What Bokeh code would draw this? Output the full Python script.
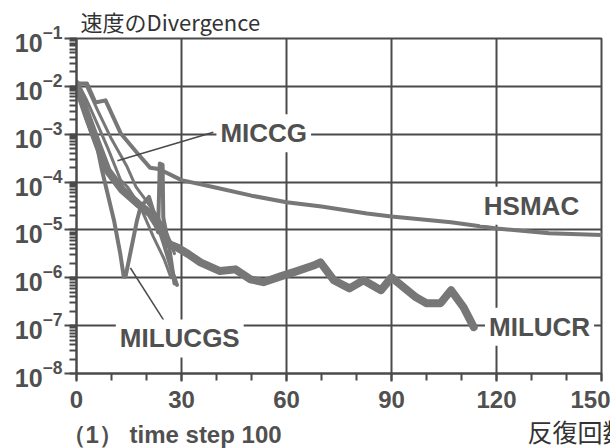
from bokeh.plotting import figure
from bokeh.models import Range1d, Label, SingleIntervalTicker, LogTicker, Title
from bokeh.embed import file_html
from bokeh.resources import INLINE

# ---- data (iteration count vs divergence of velocity) ----
hsmac_x = [1, 3, 5.4, 8.3, 12.6, 17.4, 21, 23, 25, 30, 40, 50, 60, 70, 83, 90, 107, 120, 135, 150]
hsmac_y = [1.15e-2, 1.15e-2, 4.6e-3, 5.1e-3, 1.05e-3, 4.0e-4, 2.0e-4, 1.9e-4, 1.66e-4, 1.1e-4,
           7.6e-5, 5.2e-5, 3.8e-5, 3.1e-5, 2.2e-5, 1.9e-5, 1.45e-5, 1.07e-5, 8.5e-6, 7.8e-6]

milucr_x = [0, 3, 6, 8.9, 13.1, 17.4, 21.1, 24, 26.5, 28.8, 32, 35.4, 41, 45.4, 49.7, 53.4, 58.3,
            63, 67.7, 69.7, 73.5, 78, 82, 87, 90, 97, 100, 104, 107, 110.6, 113.5]
milucr_y = [1.12e-2, 2.5e-3, 6.3e-4, 1.74e-4, 6.8e-5, 3.6e-5, 2.2e-5, 1.0e-5, 5.0e-6, 4.3e-6,
            3.1e-6, 2.1e-6, 1.38e-6, 1.5e-6, 9.3e-7, 8.1e-7, 1.07e-6, 1.38e-6, 1.8e-6, 2.1e-6,
            8.9e-7, 6.0e-7, 8.9e-7, 5.5e-7, 1.02e-6, 3.9e-7, 2.95e-7, 2.95e-7, 5.5e-7, 2.4e-7, 9.3e-8]

milucgs1_x = [0, 3, 6, 7.3, 10.7, 12.5, 13.5, 14, 17.3, 18.3, 20.7, 23, 25, 27, 28.7]
milucgs1_y = [1.0e-2, 2.0e-3, 5.0e-4, 1.74e-4, 1.6e-5, 3.2e-6, 1.05e-6, 1.05e-6, 1.6e-5, 3.0e-5,
              4.9e-5, 1.4e-5, 5.0e-6, 1.6e-6, 7.1e-7]

milucgs2_x = [0, 4, 8, 12, 16, 19, 22, 23.3, 23.8, 24.6, 24.8, 26.6, 28]
milucgs2_y = [8.9e-3, 1.26e-3, 2.5e-4, 7.9e-5, 4.5e-5, 3.2e-5, 1.8e-5, 9.0e-6, 2.45e-4, 2.3e-4,
              1.8e-5, 3.8e-6, 7.6e-7]

miccg1_x = [0.5, 3, 6, 9, 12.6, 14.6, 18.3, 22, 25, 27]
miccg1_y = [1.12e-2, 5.0e-3, 1.6e-3, 5.0e-4, 1.1e-4, 7.9e-5, 3.0e-5, 7.1e-6, 2.5e-6, 1.0e-6]

miccg2_x = [2.9, 6, 10, 14.3, 17, 20, 23, 26, 28]
miccg2_y = [1.0e-2, 3.2e-3, 7.9e-4, 2.2e-4, 7.9e-5, 4.0e-5, 2.0e-5, 7.9e-6, 3.2e-6]

# label pointer lines (from label to curve)
ptr_x0 = [39.1, 24.9]
ptr_y0 = [1.1e-3, 1.3e-7]
ptr_x1 = [11.7, 15.4]
ptr_y1 = [2.8e-4, 1.6e-6]

x_ticks_interval = 30

GREY = "#777777"
DARK = "#4a4a4a"
TXT = "#505050"

p = figure(frame_width=525, frame_height=335, output_backend="svg", toolbar_location=None,
           y_axis_type="log", x_range=Range1d(0, 150), y_range=Range1d(1e-8, 1e-1),
           min_border_left=76, min_border_right=9, min_border_top=38, min_border_bottom=75,
           background_fill_color="white", border_fill_color="white")

p.outline_line_color = DARK
p.outline_line_width = 2

# grids
for g in (p.xgrid, p.ygrid):
    g.grid_line_color = DARK
    g.grid_line_width = 2
    g.grid_line_alpha = 1.0

# axes
p.xaxis.ticker = SingleIntervalTicker(interval=x_ticks_interval, num_minor_ticks=3)
p.yaxis.ticker = LogTicker(num_minor_ticks=10)
for ax in (p.xaxis, p.yaxis):
    ax.axis_line_color = DARK
    ax.axis_line_width = 2
    ax.major_tick_line_color = DARK
    ax.major_tick_line_width = 2
    ax.minor_tick_line_color = DARK
    ax.minor_tick_line_width = 2
    ax.major_tick_in = 0
    ax.minor_tick_in = 0
    ax.major_label_text_font = "Liberation Sans"
    ax.major_label_text_font_style = "bold"
    ax.major_label_text_color = TXT
p.xaxis.major_label_text_font_size = "24px"
p.yaxis.major_label_text_font_size = "25px"
p.xaxis.major_tick_out = 8
p.xaxis.minor_tick_out = 7
p.xaxis.major_label_standoff = 9
p.yaxis.major_tick_out = 12
p.yaxis.minor_tick_out = 7
p.yaxis.major_label_standoff = 2

# curves
p.line(hsmac_x, hsmac_y, line_color=GREY, line_width=4, line_join="round", line_cap="round")
p.line(miccg1_x, miccg1_y, line_color=GREY, line_width=3, line_join="round", line_cap="round")
p.line(miccg2_x, miccg2_y, line_color=GREY, line_width=3, line_join="round", line_cap="round")
p.line(milucgs1_x, milucgs1_y, line_color=GREY, line_width=4, line_join="round", line_cap="round")
p.line(milucgs2_x, milucgs2_y, line_color=GREY, line_width=4, line_join="round", line_cap="round")
p.line(milucr_x, milucr_y, line_color=GREY, line_width=8, line_join="round", line_cap="round")

p.segment(ptr_x0, ptr_y0, ptr_x1, ptr_y1, line_color=DARK, line_width=1.5)

# curve labels
def curve_label(txt, x, y):
    p.add_layout(Label(x=x, y=y, text=txt, text_font="Liberation Sans", text_font_style="bold",
                       text_font_size="26px", text_color=TXT, text_align="center",
                       text_baseline="middle", background_fill_color="white",
                       background_fill_alpha=1.0, padding=4))

curve_label("MICCG", 53.5, 1.05e-3)
curve_label("HSMAC", 130, 3.2e-5)
curve_label("MILUCR", 132.3, 9.5e-8)
curve_label("MILUCGS", 29.5, 5.4e-8)

# top caption
p.title = Title(text="速度のDivergence", align="left", offset=4, standoff=3,
                text_font="Noto Sans CJK JP", text_font_size="22px", text_font_style="normal",
                text_color="#333333")

# bottom captions (same row)
cap_a = Title(text="（1）   time step 100", align="left", vertical_align="top", offset=-15,
              standoff=21, text_font="Liberation Sans", text_font_style="bold",
              text_font_size="24px", text_color=TXT)
cap_b = Title(text="反復回数", align="left", vertical_align="top", offset=451,
              standoff=-96, text_font="Noto Sans CJK JP", text_font_style="normal",
              text_font_size="25px", text_color="#333333")
p.add_layout(cap_a, "below")
p.add_layout(cap_b, "below")

open("out.html", "w").write(file_html(p, INLINE))
